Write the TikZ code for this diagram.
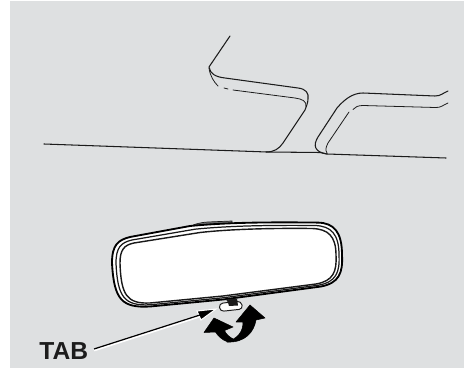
\documentclass[tikz,border=0pt]{standalone}
\usepackage{fontspec}
\setmainfont{Liberation Sans}
\def\glasspath{(120,263) .. controls (120,250) and (124,245) .. (134,243) -- (200,232.5) .. controls (227,229.5) and (265,228) .. (312,228.5) .. controls (328,229) and (336,236) .. (336,255) .. controls (337,272) and (333,281) .. (316,284) -- (223,296) -- (150,303) .. controls (127,304) and (121,295) .. (120,263) -- cycle}
\def\midpath{(116,263) .. controls (116,247.5) and (121,242.5) .. (132,240) -- (195,229.2) .. controls (227,226) and (265,225) .. (315,225.5) .. controls (331,226) and (339,234) .. (339,255) .. controls (340,272.5) and (336,282) .. (318.5,285.2) -- (223,297.8) -- (150,304.8) .. controls (124.5,306) and (117.5,297.5) .. (116,263) -- cycle}
\def\outerpath{(112,263) .. controls (112,245) and (118,240) .. (130,237) -- (190,226) .. controls (227,222.5) and (265,222) .. (318,222.6) .. controls (334,223) and (342,232) .. (342,255) .. controls (343,273) and (339,283) .. (321,286.5) -- (223,299.5) -- (150,306.5) .. controls (122,308) and (114,300) .. (112,263) -- cycle}
\definecolor{bgrey}{HTML}{DEE0E1}
\definecolor{ink}{HTML}{1C1C1C}
\tikzset{
  x=0.02cm,y=-0.02cm,
  roofline/.style={draw=ink,line width=0.6pt,line cap=round,line join=round},
  thinline/.style={draw=ink,line width=0.45pt,line cap=round,line join=round},
  solid arrow/.style={fill=black,draw=black,line width=0.3pt,line join=round}
}
\begin{document}
\begin{tikzpicture}
\useasboundingbox (0,0) rectangle (464,368);
\fill[white] (0,0) rectangle (464,368);
\fill[bgrey] (10,1) rectangle (464,368);
% horizon line
\draw[roofline] (44,144) -- (267,152) -- (320,152.5) -- (327,154) -- (446,158);
% left pillar
\draw[roofline] (230,36) -- (209,67) .. controls (210,74) and (216,77) .. (225,78) -- (298,88) .. controls (306,89) and (309,93) .. (308,99) .. controls (308,103) and (306,107) .. (305,110) -- (283,143) .. controls (279,149) and (274,152) .. (266,152);
\draw[thinline] (209,68) .. controls (210,76) and (214,82) .. (218,86);
\draw[thinline] (224,88) -- (228,89);
\draw[thinline] (233,90) -- (295,98) .. controls (302,99) and (307,101) .. (306,107);
% right pillar
\draw[roofline] (448,91) .. controls (443,93) and (441,96) .. (435,96) -- (363,93) .. controls (352,93) and (344,100) .. (337,108) -- (318,137) .. controls (313,145) and (314,152) .. (327,154);
\draw[thinline] (448,103) .. controls (443,105) and (441,108) .. (435,107.5) -- (363,105.5) .. controls (358,105.5) and (355,107) .. (353,109.5);
\draw[thinline] (349,112) -- (328,143) .. controls (326,147) and (325,150) .. (327,153);
% mirror housing bump
\filldraw[fill=ink!55!bgrey,draw=ink,line width=0.4pt] (190,226.5) .. controls (195,224) and (200,222.5) .. (208,222) -- (232,221) -- (232,224) -- cycle;
% mirror nested rim
\filldraw[fill=white,draw=black,line width=1.05pt] \outerpath;
\draw[black!90,line width=0.7pt] \midpath;
\filldraw[fill=white,draw=black!90,line width=0.8pt] \glasspath;
% tab
\filldraw[fill=white,draw=ink,line width=0.55pt,rounded corners=2.2pt] (219,303.5) -- (241,301) -- (243,309) -- (220,311.5) -- cycle;
\fill[ink] (226,299.5) -- (237,298.5) -- (238,305.5) -- (229,306) -- (228,302.5) -- cycle;
% curved arrows
\filldraw[solid arrow] (214,318) -- (233,327) -- (224.5,330.5) .. controls (226,334) and (229,337) .. (234,339.5) -- (228,342) .. controls (222,340) and (218,336) .. (215.5,332) -- (204,332.5) -- cycle;
\filldraw[solid arrow] (227,342) .. controls (245,343) and (254,332) .. (256,320) -- (265,318) -- (250,305) -- (236,322) -- (243,322) .. controls (243,332) and (238,338) .. (227,342) -- cycle;
% label and leader
\node[inner sep=0pt,anchor=west,font=\fontsize{14}{14}\selectfont\bfseries,text=ink] (tablabel) at (39,351) {TAB};
\coordinate (tabtip) at (216,309);
\coordinate (barbA) at (197,311);
\coordinate (barbB) at (201,320);
\draw[white,line width=1.6pt] (94,350) -- (200,316);
\filldraw[fill=black,draw=white,line width=0.6pt,line join=miter] (tabtip) -- (barbA) -- (barbB) -- cycle;
\draw[black,line width=0.7pt] (94,349) -- (200,315);
\end{tikzpicture}
\end{document}
